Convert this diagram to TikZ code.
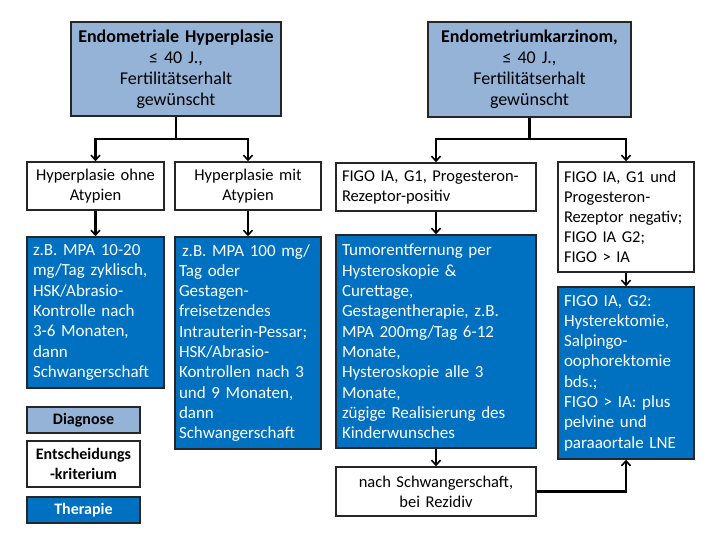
\documentclass[tikz,border=0pt]{standalone}
\usepackage{fontspec}
\setmainfont{Carlito}
\usetikzlibrary{arrows.meta}
\definecolor{diagblue}{HTML}{95B3D7}
\definecolor{therblue}{HTML}{0070C0}
\tikzset{
  box/.style={draw=black!85, line width=1.4pt, inner xsep=6pt, inner ysep=2pt,
    minimum width=#1, text width=#1-12pt},
  diag/.style={box=#1, fill=diagblue, align=center, font=\fontsize{18}{21}\selectfont},
  crit/.style={box=#1, fill=white, font=\fontsize{16.5}{20}\selectfont},
  ther/.style={box=#1, fill=therblue, text=white, align=left, font=\fontsize{17}{20.3}\selectfont},
  legfont/.style={font=\fontsize{16}{20}\selectfont\bfseries},
  arr/.style={line width=2.2pt, -{Straight Barb[length=5pt,width=9pt,line width=1.6pt]}},
  conn/.style={line width=2.2pt},
}
\begin{document}
\begin{tikzpicture}[x=1pt,y=-1pt]
\useasboundingbox (0,0) rectangle (720,540);
% top diagnosis boxes
\node[diag=210pt, minimum height=94pt] (h1) at (176,69)
  {\textbf{Endometriale Hyperplasie}\\ ≤ 40 J.,\\ Fertilitätserhalt\\ gewünscht};
\node[diag=203pt, minimum height=95pt] (h2) at (529.5,69.5)
  {\textbf{Endometriumkarzinom,}\\ ≤ 40 J.,\\ Fertilitätserhalt\\ gewünscht};
% criteria
\node[crit=137pt, minimum height=48pt, align=center] (w1) at (95.5,186)
  {Hyperplasie ohne\\ Atypien};
\node[crit=146pt, minimum height=48pt, align=center] (w2) at (248,186)
  {Hyperplasie mit\\ Atypien};
\node[crit=200pt, minimum height=48pt, align=left] (w3) at (436,187)
  {FIGO IA, G1, Progesteron-\\Rezeptor-positiv};
\node[crit=136pt, minimum height=110pt, align=left] (w4) at (626,217)
  {FIGO IA, G1 und\\ Progesteron-\\ Rezeptor negativ;\\ FIGO IA G2;\\ FIGO > IA};
% therapies
\node[ther=137pt, minimum height=151pt] (b1) at (95.5,312.5)
  {z.B. MPA 10-20\\ mg/Tag zyklisch,\\ HSK/Abrasio-\\ Kontrolle nach\\ 3-6 Monaten,\\ dann\\ Schwangerschaft};
\node[ther=146pt, minimum height=212pt, inner xsep=4pt, text width=138pt] (b2) at (248,343)
  {\hspace{3pt}z.B. MPA 100 mg/\\ Tag oder\\ Gestagen-\\ freisetzendes\\ Intrauterin-Pessar;\\ HSK/Abrasio-\\ Kontrollen nach 3\\ und 9 Monaten,\\ dann\\ Schwangerschaft};
\node[ther=200pt, minimum height=213pt] (b3) at (436,341.5)
  {Tumorentfernung per\\ Hysteroskopie \&\\ Curettage,\\ Gestagentherapie, z.B.\\ MPA 200mg/Tag 6-12\\ Monate,\\ Hysteroskopie alle 3\\ Monate,\\ zügige Realisierung des\\ Kinderwunsches};
\node[ther=136pt, minimum height=172pt] (b4) at (626,373)
  {FIGO IA, G2:\\ Hysterektomie,\\ Salpingo-\\ oophorektomie\\ bds.;\\ FIGO > IA: plus\\ pelvine und\\ paraaortale LNE};
\node[crit=200pt, minimum height=49pt, align=center] (w5) at (436,491.5)
  {nach Schwangerschaft,\\ bei Rezidiv};
% legend
\node[diag=113pt, minimum height=26pt, legfont] (l1) at (83.5,420) {Diagnose};
\node[crit=113pt, minimum height=46pt, align=center, legfont] (l2) at (83.5,464) {Entscheidungs\\-kriterium};
\node[ther=113pt, minimum height=26pt, align=center, legfont] (l3) at (83.5,510) {Therapie};
% connectors
\draw[conn] (h1.south) -- ++(0,22) coordinate (j1);
\draw[arr] (j1) -| (w1.north);
\draw[arr] (j1) -| (w2.north);
\draw[conn] (h2.south) -- ++(0,21) coordinate (j2);
\draw[arr] (j2) -| (w3.north);
\draw[arr] (j2) -| (w4.north);
\draw[arr] (w1) -- (b1);
\draw[arr] (w2) -- (b2);
\draw[arr] (w3) -- (b3);
\draw[arr] (w4) -- (b4);
\draw[arr] (b3) -- (w5);
\draw[arr] (w5.east) -| (b4.south);
\end{tikzpicture}
\end{document}
